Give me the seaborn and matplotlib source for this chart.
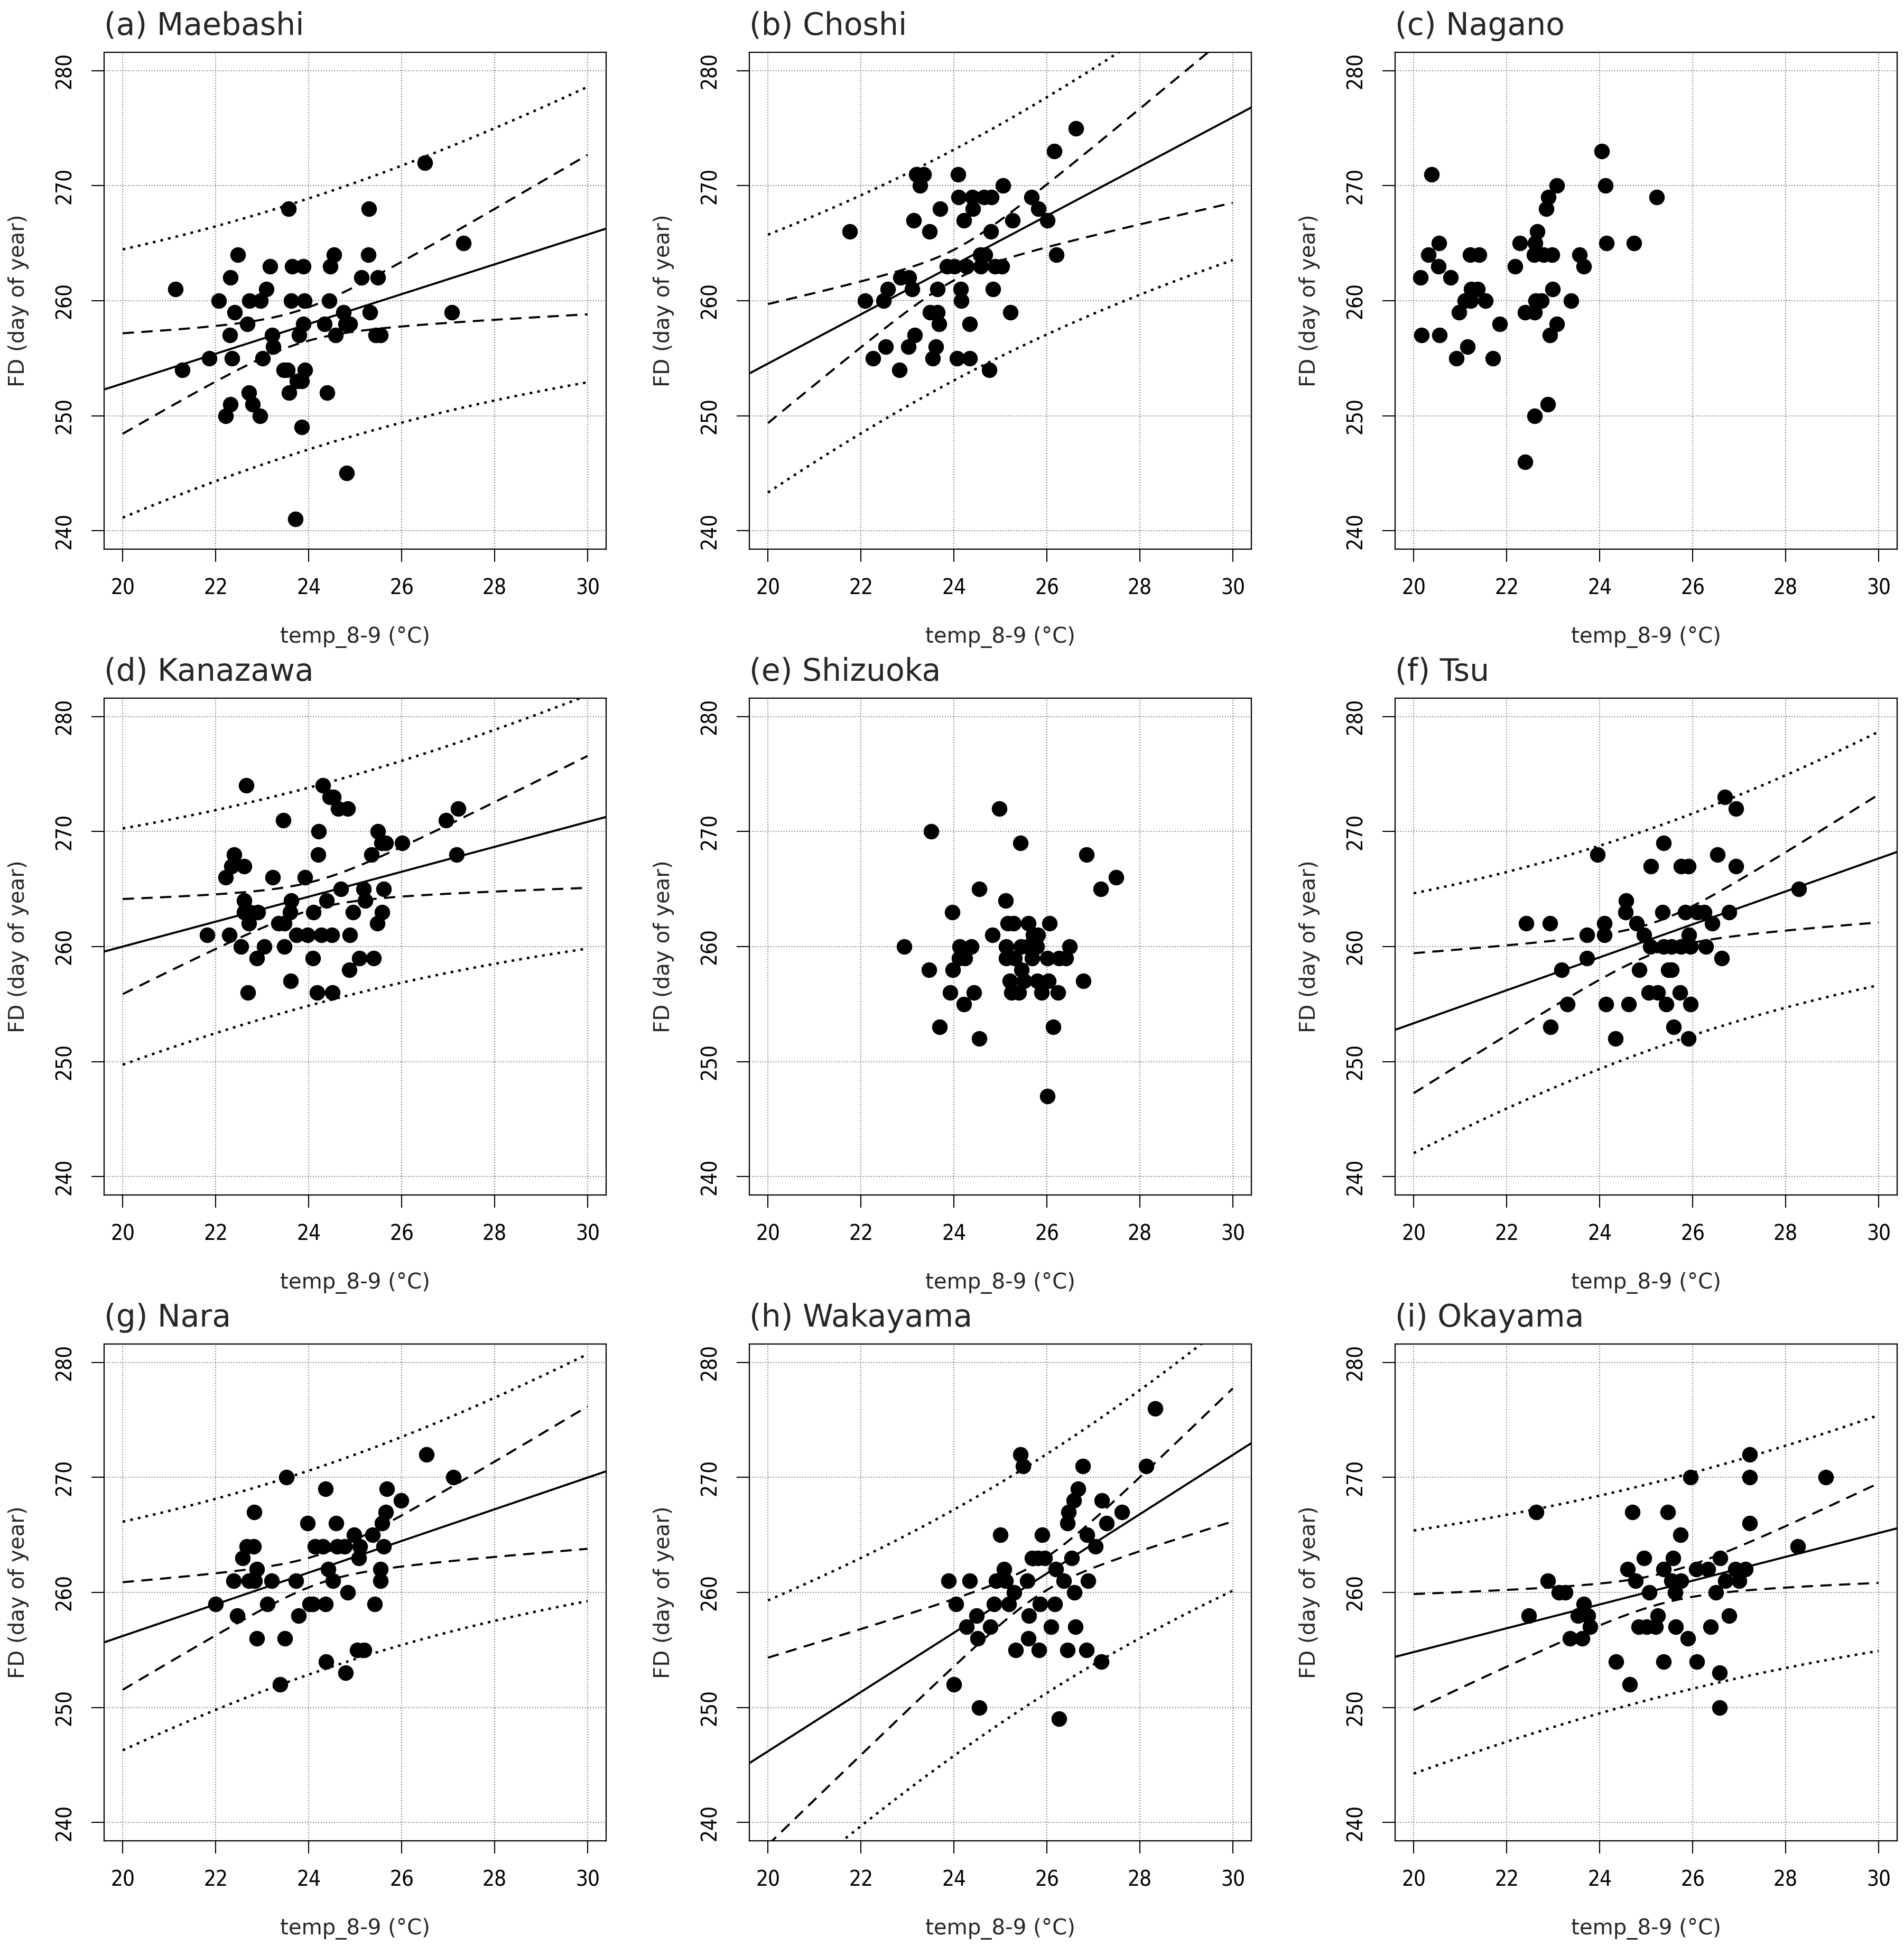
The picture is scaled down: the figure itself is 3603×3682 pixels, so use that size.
import numpy as np
import seaborn as sns
import matplotlib.pyplot as plt

# values (temp_8-9 in degC, FD as day of year)
titles = ['(a) Maebashi', '(b) Choshi', '(c) Nagano',
          '(d) Kanazawa', '(e) Shizuoka', '(f) Tsu',
          '(g) Nara', '(h) Wakayama', '(i) Okayama']

maebashi_temp = [21.13, 21.28, 21.86, 22.07, 22.48, 22.32, 22.41, 22.68, 22.30, 22.35,
                 22.73, 22.97, 23.09, 23.17, 23.21, 23.24, 23.01, 22.71, 22.79, 22.32,
                 22.21, 22.95, 23.57, 23.65, 23.89, 23.63, 23.91, 23.89, 23.79, 23.46,
                 23.55, 23.92, 23.75, 23.85, 23.58, 23.85, 23.71, 24.55, 24.46, 24.44,
                 24.34, 24.58, 24.75, 24.80, 24.89, 24.40, 24.82, 25.30, 25.28, 25.14,
                 25.49, 25.32, 25.44, 25.54, 26.50, 27.33, 27.08]
maebashi_fd = [261, 254, 255, 260, 264, 262, 259, 258, 257, 255,
               260, 260, 261, 263, 257, 256, 255, 252, 251, 251,
               250, 250, 268, 263, 263, 260, 260, 258, 257, 254,
               254, 254, 253, 253, 252, 249, 241, 264, 263, 260,
               258, 257, 259, 258, 258, 252, 245, 268, 264, 262,
               262, 259, 257, 257, 272, 265, 259]

choshi_temp = [21.76, 22.09, 22.49, 22.58, 22.26, 22.53, 22.83, 22.85, 23.03, 23.10,
               23.13, 23.19, 23.35, 23.27, 23.16, 23.02, 23.48, 23.70, 23.65, 23.49,
               23.65, 23.68, 23.61, 23.54, 23.85, 24.01, 24.09, 24.10, 24.22, 24.27,
               24.15, 24.16, 24.07, 24.34, 24.34, 24.40, 24.41, 24.65, 24.81, 24.79,
               24.57, 24.67, 24.58, 24.89, 25.03, 24.84, 24.76, 25.06, 25.26, 25.22,
               25.67, 25.82, 26.01, 26.16, 26.21, 26.62]
choshi_fd = [266, 260, 260, 261, 255, 256, 254, 262, 262, 261,
             267, 271, 271, 270, 257, 256, 266, 268, 261, 259,
             259, 258, 256, 255, 263, 263, 271, 269, 267, 263,
             261, 260, 255, 255, 258, 269, 268, 269, 269, 266,
             264, 264, 263, 263, 263, 261, 254, 270, 267, 259,
             269, 268, 267, 273, 264, 275]

nagano_temp = [20.38, 20.54, 20.32, 20.53, 20.15, 20.79, 20.17, 20.55, 21.21, 21.41,
               21.24, 21.37, 21.10, 21.22, 21.54, 20.97, 21.85, 21.16, 20.92, 21.70,
               22.18, 22.28, 22.66, 22.61, 22.59, 22.79, 22.98, 23.08, 22.90, 22.85,
               23.57, 23.66, 22.99, 22.62, 22.75, 22.40, 22.60, 23.08, 22.93, 23.38,
               22.88, 22.60, 22.40, 24.05, 24.13, 24.15, 24.74, 25.23]
nagano_fd = [271, 265, 264, 263, 262, 262, 257, 257, 264, 264,
             261, 261, 260, 260, 260, 259, 258, 256, 255, 255,
             263, 265, 266, 265, 264, 264, 264, 270, 269, 268,
             264, 263, 261, 260, 260, 259, 259, 258, 257, 260,
             251, 250, 246, 273, 270, 265, 265, 269]

kanazawa_temp = [21.82, 22.29, 22.22, 22.34, 22.40, 22.61, 22.66, 22.61, 22.61, 22.74,
                 22.91, 22.71, 22.55, 23.04, 22.89, 22.69, 23.23, 23.45, 23.62, 23.60,
                 23.35, 23.48, 23.74, 23.98, 23.48, 23.61, 23.92, 24.22, 24.20, 24.31,
                 24.45, 24.53, 24.64, 24.84, 24.10, 24.39, 24.27, 24.50, 24.09, 24.18,
                 24.51, 24.69, 24.95, 24.89, 25.09, 25.40, 24.87, 25.18, 25.22, 25.48,
                 25.58, 25.61, 25.35, 25.49, 25.57, 25.66, 26.01, 26.95, 27.22, 27.18]
kanazawa_fd = [261, 261, 266, 267, 268, 267, 274, 264, 263, 263,
               263, 262, 260, 260, 259, 256, 266, 271, 264, 263,
               262, 262, 261, 261, 260, 257, 266, 270, 268, 274,
               273, 273, 272, 272, 263, 264, 261, 261, 259, 256,
               256, 265, 263, 261, 259, 259, 258, 265, 264, 262,
               263, 265, 268, 270, 269, 269, 269, 271, 272, 268]

shizuoka_temp = [22.93, 23.51, 23.46, 23.97, 23.98, 23.92, 23.69, 24.12, 24.38, 24.11,
                 24.24, 24.43, 24.21, 24.55, 24.55, 24.98, 24.83, 25.11, 25.16, 25.28,
                 25.60, 25.12, 25.12, 25.31, 25.44, 25.58, 25.78, 25.71, 25.81, 25.46,
                 25.20, 25.51, 25.24, 25.40, 25.43, 25.68, 25.80, 26.04, 25.89, 26.06,
                 26.01, 26.26, 26.41, 26.49, 26.24, 26.14, 26.01, 26.78, 26.85, 27.16,
                 27.49]
shizuoka_fd = [260, 270, 258, 263, 258, 256, 253, 260, 260, 259,
               259, 256, 255, 265, 252, 272, 261, 264, 262, 262,
               262, 260, 259, 259, 260, 260, 260, 261, 261, 258,
               257, 257, 256, 256, 269, 259, 257, 257, 256, 262,
               259, 259, 259, 260, 256, 253, 247, 257, 268, 265,
               266]

tsu_temp = [22.42, 22.93, 22.94, 23.18, 23.31, 23.73, 23.73, 23.95, 24.10, 24.10,
            24.14, 24.34, 24.57, 24.56, 24.62, 24.79, 24.95, 25.09, 24.85, 25.10,
            25.06, 25.25, 25.38, 25.35, 25.38, 25.55, 25.48, 25.55, 25.43, 25.59,
            25.75, 25.91, 25.84, 25.75, 25.95, 25.92, 25.73, 25.96, 25.91, 26.10,
            26.25, 26.42, 26.29, 26.54, 26.63, 26.69, 26.93, 26.93, 26.78, 28.28]
tsu_fd = [262, 262, 253, 258, 255, 261, 259, 268, 262, 261,
          255, 252, 264, 263, 255, 262, 261, 260, 258, 267,
          256, 256, 269, 263, 260, 260, 258, 258, 255, 253,
          267, 267, 263, 260, 260, 261, 256, 255, 252, 263,
          263, 262, 260, 268, 259, 273, 272, 267, 263, 265]

nara_temp = [22.00, 22.47, 22.39, 22.71, 22.84, 22.58, 22.67, 22.82, 22.83, 22.88,
             22.89, 23.11, 23.20, 23.49, 23.38, 23.52, 23.73, 23.78, 23.98, 24.02,
             24.09, 24.14, 24.31, 24.36, 24.36, 24.37, 24.42, 24.52, 24.59, 24.61,
             24.77, 24.84, 24.98, 25.10, 25.08, 24.80, 25.05, 25.19, 25.38, 25.42,
             25.54, 25.54, 25.61, 25.58, 25.66, 25.68, 25.99, 26.53, 27.11]
nara_fd = [259, 258, 261, 261, 261, 263, 264, 264, 267, 262,
           256, 259, 261, 256, 252, 270, 261, 258, 266, 259,
           259, 264, 264, 259, 269, 254, 262, 261, 266, 264,
           264, 260, 265, 264, 263, 253, 255, 255, 265, 259,
           261, 262, 264, 266, 267, 269, 268, 272, 270]

wakayama_temp = [23.89, 24.34, 24.05, 24.00, 24.54, 24.27, 24.49, 24.51, 24.78, 24.86,
                 24.91, 25.11, 25.08, 25.00, 25.18, 25.30, 25.33, 25.43, 25.49, 25.58,
                 25.61, 25.60, 25.68, 25.81, 25.95, 25.90, 25.85, 25.83, 26.17, 26.19,
                 26.09, 26.26, 26.36, 26.44, 26.47, 26.58, 26.67, 26.53, 26.59, 26.61,
                 26.44, 26.77, 26.86, 26.89, 26.85, 27.05, 27.18, 27.29, 27.17, 27.62,
                 28.14, 28.33]
wakayama_fd = [261, 261, 259, 252, 250, 257, 258, 256, 257, 259,
               261, 261, 262, 265, 259, 260, 255, 272, 271, 261,
               258, 256, 263, 263, 263, 265, 259, 255, 259, 262,
               257, 249, 261, 266, 267, 268, 269, 263, 260, 257,
               255, 271, 265, 261, 255, 264, 268, 266, 254, 267,
               271, 276]

okayama_temp = [22.64, 22.48, 22.89, 23.12, 23.26, 23.66, 23.53, 23.75, 23.80, 23.36,
                23.63, 24.35, 24.65, 24.70, 24.60, 24.77, 24.95, 25.07, 24.84, 25.01,
                25.21, 25.25, 25.38, 25.47, 25.38, 25.58, 25.55, 25.75, 25.62, 25.74,
                25.64, 25.90, 25.96, 26.08, 26.33, 26.09, 26.39, 26.50, 26.59, 26.71,
                26.78, 26.58, 26.58, 26.92, 27.14, 27.00, 27.23, 27.23, 27.23, 28.26,
                28.87]
okayama_fd = [267, 258, 261, 260, 260, 259, 258, 258, 257, 256,
              256, 254, 252, 267, 262, 261, 263, 260, 257, 257,
              257, 258, 254, 267, 262, 263, 261, 261, 260, 265,
              257, 256, 270, 262, 262, 254, 257, 260, 263, 261,
              258, 253, 250, 262, 262, 261, 272, 270, 266, 264,
              270]

# panels with a regression line and 95% confidence / prediction bands
has_fit = [True, True, False, True, False, True, True, True, True]

temps = [maebashi_temp, choshi_temp, nagano_temp, kanazawa_temp, shizuoka_temp,
         tsu_temp, nara_temp, wakayama_temp, okayama_temp]
fds = [maebashi_fd, choshi_fd, nagano_fd, kanazawa_fd, shizuoka_fd,
       tsu_fd, nara_fd, wakayama_fd, okayama_fd]


def t975(df):
    # Cornish-Fisher expansion of the 0.975 quantile of Student's t
    z = 1.959964
    return z + (z**3 + z) / (4 * df) + (5 * z**5 + 16 * z**3 + 3 * z) / (96 * df**2)


sns.set_style('white')
plt.rcParams['font.family'] = ['DejaVu Sans']

W, H = 3603, 3682
fig = plt.figure(figsize=(W / 100, H / 100), dpi=100)

col_left = [197, 1418, 2640]
row_top = [99, 1321, 2543]
box_w, box_h = 950, 940

for k in range(9):
    r, c = divmod(k, 3)
    ax = fig.add_axes([col_left[c] / W, 1 - (row_top[r] + box_h) / H, box_w / W, box_h / H])
    ax.set_xlim(19.6, 30.4)
    ax.set_ylim(238.4, 281.6)
    ax.set_xticks(range(20, 31, 2))
    ax.set_yticks(range(240, 281, 10))
    ax.grid(True, color='#5a5a5a', linestyle=(0, (1, 2)), linewidth=1.2)
    ax.set_axisbelow(True)

    sns.scatterplot(x=temps[k], y=fds[k], ax=ax, color='black', s=450,
                    linewidth=0, zorder=3)

    if has_fit[k]:
        x = np.asarray(temps[k], dtype=float)
        y = np.asarray(fds[k], dtype=float)
        n = len(x)
        b1, b0 = np.polyfit(x, y, 1)
        s = np.sqrt(np.sum((y - (b0 + b1 * x)) ** 2) / (n - 2))
        sxx = np.sum((x - x.mean()) ** 2)
        t = t975(n - 2)
        xg = np.linspace(20, 30, 200)
        yg = b0 + b1 * xg
        se_c = s * np.sqrt(1 / n + (xg - x.mean()) ** 2 / sxx)
        se_p = s * np.sqrt(1 + 1 / n + (xg - x.mean()) ** 2 / sxx)
        xl = np.array([19.6, 30.4])
        ax.plot(xl, b0 + b1 * xl, color='black', lw=2.8, zorder=4)
        for sign in (-1, 1):
            ax.plot(xg, yg + sign * t * se_c, color='black', lw=2.8,
                    dashes=(5.5, 3.6), zorder=4)
            ax.plot(xg, yg + sign * t * se_p, color='black', lw=3.3,
                    dashes=(1.1, 2.1), zorder=4)

    for sp in ax.spines.values():
        sp.set_visible(True)
        sp.set_color('black')
        sp.set_linewidth(1.6)
    ax.tick_params(direction='out', length=17, width=1.5, labelsize=29, pad=22,
                   colors='black', left=True, bottom=True)
    for lab in ax.get_xticklabels() + ax.get_yticklabels():
        lab.set_fontstretch('condensed')
    for lab in ax.get_yticklabels():
        lab.set_rotation(90)
        lab.set_va('center')

    ax.set_title(titles[k], loc='left', fontsize=42, pad=24)
    ax.set_xlabel('temp_8-9 (°C)', fontsize=29)
    ax.set_ylabel('FD (day of year)', fontsize=29)
    ax.xaxis.set_label_coords(0.5, -167 / box_h)
    ax.xaxis.label.set_va('center')
    ax.yaxis.set_label_coords(-162 / box_w, 0.5)
    ax.yaxis.label.set_va('center')
    ax.yaxis.label.set_ha('center')

fig.savefig('out.png', dpi=100, facecolor='white')
